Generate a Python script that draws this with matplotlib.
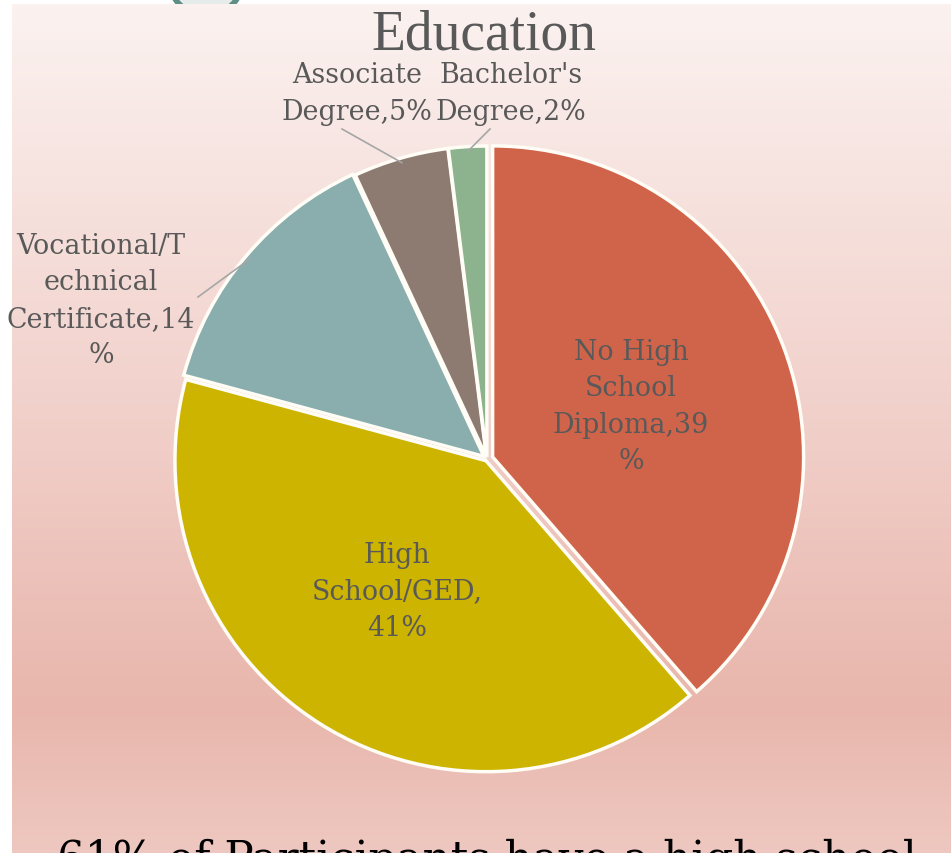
import numpy as np
import matplotlib
matplotlib.use("Agg")
import matplotlib.pyplot as plt
from matplotlib.patches import Circle
from matplotlib.colors import LinearSegmentedColormap

# data
categories = ["No High School Diploma", "High School/GED", "Vocational/Technical Certificate",
              "Associate Degree", "Bachelor's Degree"]
values = [39, 41, 14, 5, 2]
colors = ["#D0644A", "#CCB400", "#8AAEAE", "#8D7A70", "#8CB38E"]
label_texts = ["No High\nSchool\nDiploma,39\n%", "High\nSchool/GED,\n41%",
               "Vocational/T\nechnical\nCertificate,14\n%", "Associate\nDegree,5%",
               "Bachelor's\nDegree,2%"]

W, H = 951, 854
def py(y):
    # pixel row (from top) to data y
    return H - y

fig = plt.figure(figsize=(9.51, 8.54), dpi=100)
fig.patch.set_facecolor("white")
ax = fig.add_axes([0, 0, 1, 1])

# background gradient panel
grad_cmap = LinearSegmentedColormap.from_list(
    "bg", [(0.0, "#FBF2F0"), (0.25, "#F6E0DC"), (0.5, "#F1CFC9"),
           (0.83, "#E8B6AC"), (1.0, "#EEC8C0")])
grad = np.linspace(0, 1, 256).reshape(-1, 1)
ax.imshow(grad, cmap=grad_cmap, extent=[12, W, 0, py(5)], aspect="auto", zorder=1)

# teal ring peeking at top
ax.add_patch(Circle((206, py(-22)), 38, facecolor="#E6ECEA", edgecolor="#5F8D87",
                    lw=4, zorder=0.5))

# explode is in data units (pixels here)
explode = [6, 2, 4, 2, 2]
wedges, _ = ax.pie(values, colors=colors, startangle=90, counterclock=False,
                   center=(487, py(460)), radius=311, explode=explode,
                   wedgeprops=dict(edgecolor="#FFFDF5", linewidth=2.5),
                   frame=True)
for w in wedges:
    w.set_zorder(2)

txt = dict(family="DejaVu Serif", fontsize=19.4, color="#595959", ha="center",
           va="center", linespacing=1.46, zorder=4)

# inside labels
ax.text(631, py(407), label_texts[0], **txt)
ax.text(397, py(592), label_texts[1], **txt)

# outside labels with leader lines
outside = [(2, (101, 301), (198, 298)),
           (3, (357, 94), (342, 130)),
           (4, (511, 94), (490, 130))]
for i, (lx, ly), (sx, sy) in outside:
    ax.text(lx, py(ly), label_texts[i], **txt)
    w = wedges[i]
    mid = np.deg2rad((w.theta1 + w.theta2) / 2)
    ex = w.center[0] + 0.985 * w.r * np.cos(mid)
    ey = w.center[1] + 0.985 * w.r * np.sin(mid)
    ax.plot([sx, ex], [py(sy), ey], color="#A6A6A6", lw=1.2, zorder=3)

ax.text(484, py(36), "Education", family="Liberation Serif", fontsize=40,
        color="#595959", ha="center", va="center", zorder=4)

ax.text(487, py(873), "61% of Participants have a high school", family="DejaVu Serif",
        fontsize=31.5, color="black", ha="center", va="baseline", zorder=4)

ax.set_xlim(0, W)
ax.set_ylim(0, H)
ax.set_aspect("auto")
ax.axis("off")

fig.savefig("out.png", dpi=100)
